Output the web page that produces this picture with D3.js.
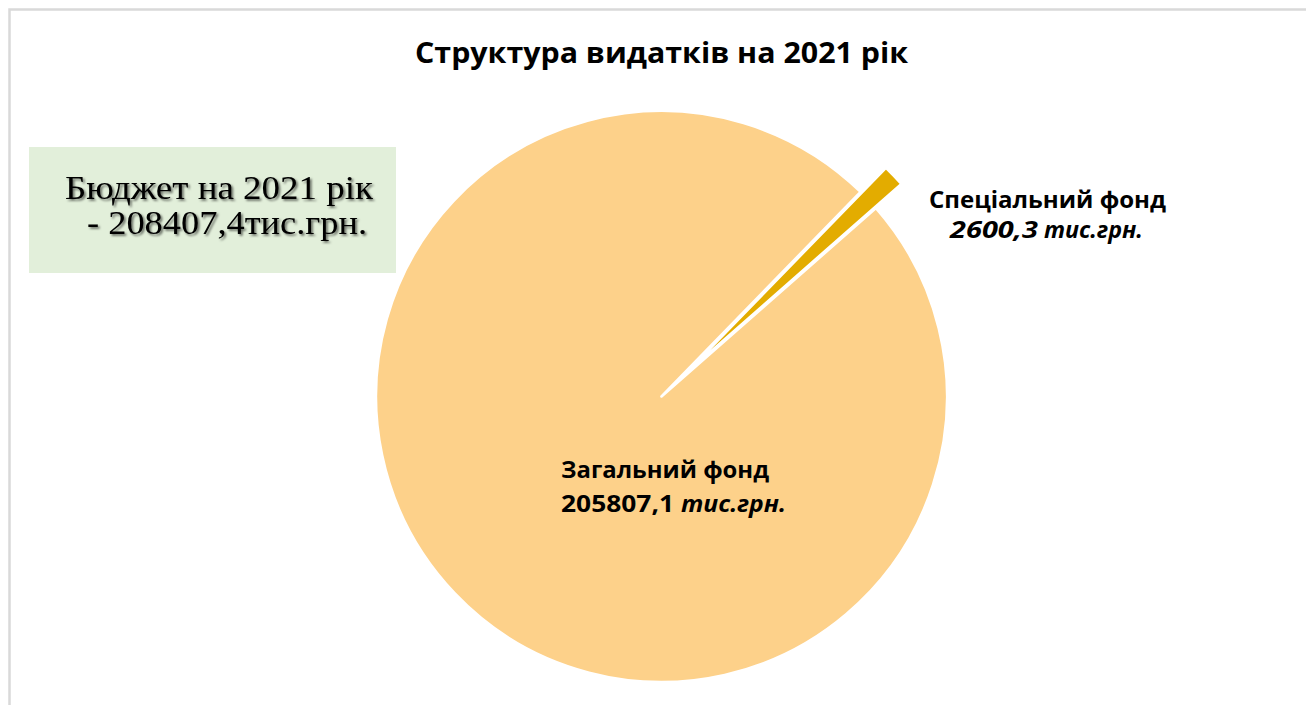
<!DOCTYPE html>
<html>
<head>
<meta charset="utf-8">
<script src="https://cdn.jsdelivr.net/npm/d3@7"></script>
<style>
  html, body { margin: 0; padding: 0; background: #ffffff; overflow: hidden; }
  svg { display: block; }
</style>
</head>
<body>
<div id="chart"></div>
<script>
// ---- data ----
const categories = ["Загальний фонд", "Спеціальний фонд"];
const values = [205807.1, 2600.3];
const valueLabels = ["205807,1", "2600,3"];
const unitLabel = "тис.грн.";
const exploded = [false, true];
const titleText = "Структура видатків  на 2021 рік";
const budgetLines = ["Бюджет на 2021  рік", "- 208407,4тис.грн."];
const colors = ["#FDD18A", "#E3AC00"];

// ---- layout ----
const W = 1306, H = 705;
const cx = 661.5, cy = 396.5, R = 285.5;
const explodeDist = 35;
const startDeg = 48.7;

const svg = d3.select("#chart").append("svg")
  .attr("width", W).attr("height", H);

const defs = svg.append("defs");
const f = defs.append("filter").attr("id", "shadow")
  .attr("x", "-10%").attr("y", "-20%").attr("width", "130%").attr("height", "150%");
f.append("feDropShadow").attr("dx", 1.8).attr("dy", 1.8)
  .attr("stdDeviation", 1.2).attr("flood-color", "#000").attr("flood-opacity", 0.55);

// chart border (extends beyond the right and bottom edges)
svg.append("rect")
  .attr("x", 9.5).attr("y", 9.5).attr("width", W + 60).attr("height", H + 60)
  .attr("fill", "#fff").attr("stroke", "#D9D9D9").attr("stroke-width", 2.5);

// title
svg.append("text")
  .attr("x", 415).attr("y", 63)
  .attr("textLength", 493).attr("lengthAdjust", "spacingAndGlyphs")
  .style("font-family", "'Open Sans', 'Noto Sans', sans-serif")
  .style("font-weight", "700").style("font-size", "29px")
  .attr("fill", "#000")
  .text(titleText);

// pie
const pie = d3.pie().sort(null).value(d => d)
  .startAngle(startDeg * Math.PI / 180)
  .endAngle(startDeg * Math.PI / 180 + 2 * Math.PI);
const arcs = pie(values);
const arc = d3.arc().innerRadius(0).outerRadius(R);

const g = svg.append("g").attr("transform", `translate(${cx},${cy})`);
g.selectAll("path.slice").data(arcs).join("path")
  .attr("class", "slice")
  .attr("d", arc)
  .attr("fill", (d, i) => colors[i])
  .attr("stroke", "#fff")
  .attr("stroke-width", 2.6)
  .attr("stroke-linejoin", "round")
  .attr("transform", (d, i) => {
    if (!exploded[i]) return null;
    const m = (d.startAngle + d.endAngle) / 2;
    return `translate(${explodeDist * Math.sin(m)},${-explodeDist * Math.cos(m)})`;
  });

// budget box
svg.append("rect")
  .attr("x", 29).attr("y", 147).attr("width", 367).attr("height", 126)
  .attr("fill", "#E2EFDA");
const serif = "'Liberation Serif', 'Times New Roman', serif";
const boxPos = [{x: 65, y: 199, w: 308}, {x: 87, y: 234, w: 280}];
svg.selectAll("text.budget").data(budgetLines).join("text")
  .attr("class", "budget")
  .attr("x", (d, i) => boxPos[i].x).attr("y", (d, i) => boxPos[i].y)
  .attr("textLength", (d, i) => boxPos[i].w).attr("lengthAdjust", "spacingAndGlyphs")
  .style("font-family", serif).style("font-size", "33px")
  .attr("fill", "#000")
  .attr("filter", "url(#shadow)")
  .text(d => d);

// data labels
const sans = "'Open Sans', 'Noto Sans', sans-serif";
function label(x, y, txt, w, italic) {
  svg.append("text")
    .attr("x", x).attr("y", y)
    .attr("textLength", w).attr("lengthAdjust", "spacingAndGlyphs")
    .style("font-family", sans).style("font-weight", "700")
    .style("font-size", "24px")
    .style("font-style", italic ? "italic" : "normal")
    .attr("fill", "#000")
    .text(txt);
}
// general fund
label(561, 478, categories[0], 208, false);
label(561, 512, valueLabels[0], 113, false);
label(681, 512, unitLabel, 105, true);
// special fund
label(929, 208, categories[1], 237, false);
label(950, 238, valueLabels[1], 88, true);
label(1044, 238, unitLabel, 99, true);
</script>
</body>
</html>
